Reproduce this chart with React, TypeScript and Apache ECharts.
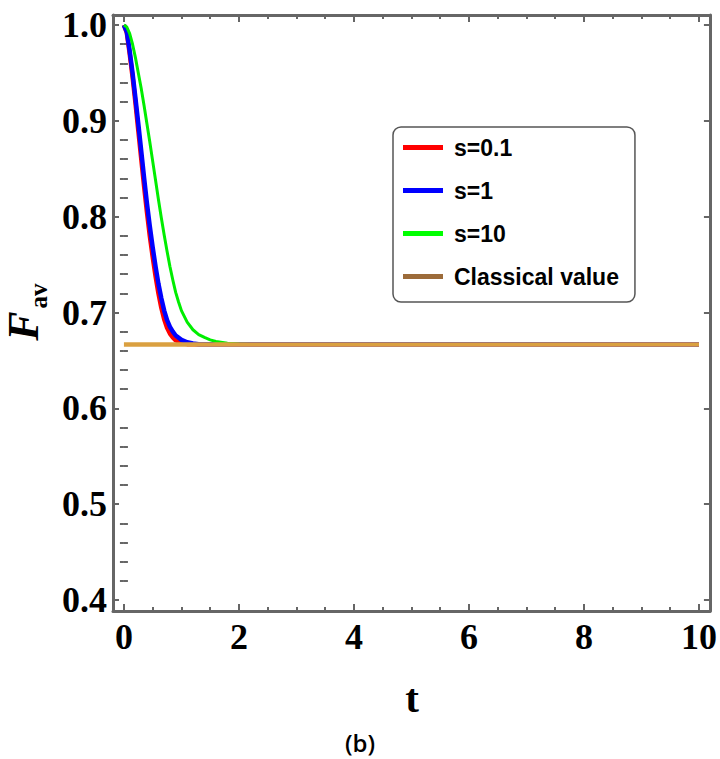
import React, { useEffect, useRef } from "react";
import * as echarts from "echarts";

const redT = [0, 0.05, 0.1, 0.15, 0.2, 0.25, 0.3, 0.35, 0.4, 0.45, 0.5, 0.55, 0.6, 0.65, 0.7, 0.75, 0.8, 0.85, 0.9, 1.0, 1.1, 10];
const redF = [1.0, 0.992, 0.970, 0.946, 0.919, 0.890, 0.861, 0.832, 0.805, 0.780, 0.758, 0.738, 0.720, 0.705, 0.693, 0.684, 0.678, 0.674, 0.671, 0.668, 0.667, 0.6667];

const blueT = [0, 0.05, 0.1, 0.15, 0.2, 0.25, 0.3, 0.35, 0.4, 0.45, 0.5, 0.55, 0.6, 0.65, 0.7, 0.75, 0.8, 0.85, 0.9, 1.0, 1.1, 1.2, 1.3, 10];
const blueF = [1.0, 0.993, 0.973, 0.950, 0.924, 0.897, 0.869, 0.841, 0.814, 0.790, 0.768, 0.748, 0.730, 0.715, 0.702, 0.692, 0.685, 0.680, 0.676, 0.6715, 0.669, 0.6677, 0.667, 0.6667];

const greenT = [0, 0.05, 0.1, 0.15, 0.2, 0.25, 0.3, 0.35, 0.4, 0.45, 0.5, 0.55, 0.6, 0.65, 0.7, 0.75, 0.8, 0.85, 0.9, 0.95, 1.0, 1.1, 1.2, 1.3, 1.4, 1.5, 1.6, 1.8, 2.0, 2.2, 10];
const greenF = [1.0, 0.998, 0.991, 0.980, 0.966, 0.950, 0.934, 0.916, 0.897, 0.878, 0.858, 0.838, 0.818, 0.799, 0.781, 0.764, 0.748, 0.734, 0.721, 0.711, 0.702, 0.690, 0.682, 0.677, 0.674, 0.6715, 0.6698, 0.668, 0.6671, 0.6667, 0.6667];

const classicalT = [0, 10];
const classicalF = [0.6667, 0.6667];

const xMajor = [0, 2, 4, 6, 8, 10];
const xMinor = [0.5, 1, 1.5, 2.5, 3, 3.5, 4.5, 5, 5.5, 6.5, 7, 7.5, 8.5, 9, 9.5];
const yMajor = [0.4, 0.5, 0.6, 0.7, 0.8, 0.9, 1.0];
const yMinor = [0.42, 0.44, 0.46, 0.48, 0.52, 0.54, 0.56, 0.58, 0.62, 0.64, 0.66, 0.68, 0.72, 0.74, 0.76, 0.78, 0.82, 0.84, 0.86, 0.88, 0.92, 0.94, 0.96, 0.98];

const seriesNames = ["s=0.1", "s=1", "s=10", "Classical value"];

const pairs = (t: number[], f: number[]) => t.map((v, i) => [v, f[i]]);

const FRAME = "#666666";
const SERIF = "'Liberation Serif', 'Times New Roman', serif";
const SANS = "'Liberation Sans', Arial, sans-serif";

export default function App() {
  const ref = useRef<HTMLDivElement>(null);
  useEffect(() => {
    if (!ref.current) return;
    const chart = echarts.init(ref.current, undefined, { renderer: "svg" });
    const labelStyle = {
      fontFamily: SERIF,
      fontWeight: "bold" as const,
      fontSize: 36,
      color: "#000",
    };
    const xBase = { type: "value" as const, min: -0.19, max: 10.19, splitLine: { show: false } };
    const yBase = { type: "value" as const, min: 0.3885, max: 1.0105, splitLine: { show: false } };
    const curve = (name: string, t: number[], f: number[], color: string, lineColor: string, width: number, z: number) => ({
      name,
      type: "line",
      data: pairs(t, f),
      showSymbol: false,
      symbol: "none",
      smooth: false,
      itemStyle: { color },
      lineStyle: { color: lineColor, width, cap: "butt", join: "round" },
      z,
    });
    const option = {
      animation: false,
      backgroundColor: "#ffffff",
      grid: { left: 113, right: 9, top: 15, bottom: 148, containLabel: false },
      xAxis: [
        {
          ...xBase,
          position: "bottom",
          axisLine: { show: true, onZero: false, lineStyle: { color: FRAME, width: 3 } },
          axisTick: { show: true, inside: true, length: 7, customValues: xMajor, lineStyle: { color: FRAME, width: 2 } },
          axisLabel: { show: true, customValues: xMajor, margin: 8, ...labelStyle },
        },
        {
          ...xBase,
          position: "top",
          axisLine: { show: true, onZero: false, lineStyle: { color: FRAME, width: 3 } },
          axisTick: { show: true, inside: true, length: 7, customValues: xMajor, lineStyle: { color: FRAME, width: 2 } },
          axisLabel: { show: false },
        },
        {
          ...xBase,
          position: "bottom",
          axisLine: { show: false },
          axisTick: { show: true, inside: true, length: 4, customValues: xMinor, lineStyle: { color: FRAME, width: 2 } },
          axisLabel: { show: false },
        },
        {
          ...xBase,
          position: "top",
          axisLine: { show: false },
          axisTick: { show: true, inside: true, length: 4, customValues: xMinor, lineStyle: { color: FRAME, width: 2 } },
          axisLabel: { show: false },
        },
      ],
      yAxis: [
        {
          ...yBase,
          position: "left",
          axisLine: { show: true, onZero: false, lineStyle: { color: FRAME, width: 3 } },
          axisTick: { show: true, inside: true, length: 6, customValues: yMajor, lineStyle: { color: FRAME, width: 2 } },
          axisLabel: {
            show: true,
            customValues: yMajor,
            margin: 6,
            formatter: (v: number) => v.toFixed(1),
            ...labelStyle,
          },
        },
        {
          ...yBase,
          position: "right",
          axisLine: { show: true, onZero: false, lineStyle: { color: FRAME, width: 3 } },
          axisTick: { show: true, inside: true, length: 6, customValues: yMajor, lineStyle: { color: FRAME, width: 2 } },
          axisLabel: { show: false },
        },
        {
          ...yBase,
          position: "left",
          axisLine: { show: false },
          axisTick: { show: true, inside: true, length: 4, customValues: yMinor, lineStyle: { color: FRAME, width: 2 } },
          axisLabel: { show: false },
        },
        {
          ...yBase,
          position: "right",
          axisLine: { show: false },
          axisTick: { show: true, inside: true, length: 4, customValues: yMinor, lineStyle: { color: FRAME, width: 2 } },
          axisLabel: { show: false },
        },
      ],
      legend: {
        show: true,
        orient: "vertical",
        left: 393,
        top: 127,
        icon: "rect",
        itemWidth: 40,
        itemHeight: 5,
        itemGap: 20,
        selectedMode: false,
        backgroundColor: "#ffffff",
        borderColor: "#555555",
        borderWidth: 1.5,
        borderRadius: 8,
        padding: [9, 16, 14, 10],
        textStyle: {
          fontFamily: SANS,
          fontWeight: "bold",
          fontSize: 23,
          lineHeight: 23,
          color: "#000",
          padding: [0, 0, 0, 6],
        },
        data: [
          { name: seriesNames[0], itemStyle: { color: "#ff0000" } },
          { name: seriesNames[1], itemStyle: { color: "#0000ff" } },
          { name: seriesNames[2], itemStyle: { color: "#00ff00" } },
          { name: seriesNames[3], itemStyle: { color: "#9c6b3a" } },
        ],
      },
      series: [
        curve(seriesNames[0], redT, redF, "#ff0000", "#ff0000", 4.5, 2),
        curve(seriesNames[1], blueT, blueF, "#0000ff", "#0000ff", 4.5, 3),
        curve(seriesNames[2], greenT, greenF, "#00ff00", "#00ee00", 3, 3),
        {
          name: seriesNames[3],
          type: "line",
          data: pairs(classicalT, classicalF),
          showSymbol: false,
          symbol: "none",
          itemStyle: { color: "#9c6b3a" },
          lineStyle: { color: "#daa040", width: 4.5, cap: "butt" },
          z: 4,
        },
      ],
      graphic: [
        {
          type: "text",
          x: 23,
          y: 326,
          rotation: Math.PI / 2,
          style: {
            text: "F",
            fontFamily: SERIF,
            fontStyle: "italic",
            fontWeight: "bold",
            fontSize: 44,
            fill: "#000",
            align: "center",
            verticalAlign: "middle",
          },
        },
        {
          type: "text",
          x: 38,
          y: 296,
          rotation: Math.PI / 2,
          style: {
            text: "av",
            fontFamily: SERIF,
            fontWeight: "bold",
            fontSize: 25,
            fill: "#000",
            align: "center",
            verticalAlign: "middle",
          },
        },
        {
          type: "text",
          x: 412,
          y: 698,
          style: {
            text: "t",
            fontFamily: SERIF,
            fontWeight: "bold",
            fontSize: 41,
            fill: "#000",
            align: "center",
            verticalAlign: "middle",
          },
        },
        {
          type: "text",
          x: 360,
          y: 742,
          style: {
            text: "(b)",
            fontFamily: "'Open Sans', 'DejaVu Sans', sans-serif",
            fontWeight: 600,
            fontSize: 24,
            lineHeight: 26,
            fill: "#000",
            align: "center",
            verticalAlign: "middle",
          },
        },
      ],
    };
    chart.setOption(option as any);
    return () => chart.dispose();
  }, []);
  return (
    <div
      ref={ref}
      style={{ position: "absolute", left: 0, top: 0, width: 720, height: 759, background: "#fff" }}
    />
  );
}
